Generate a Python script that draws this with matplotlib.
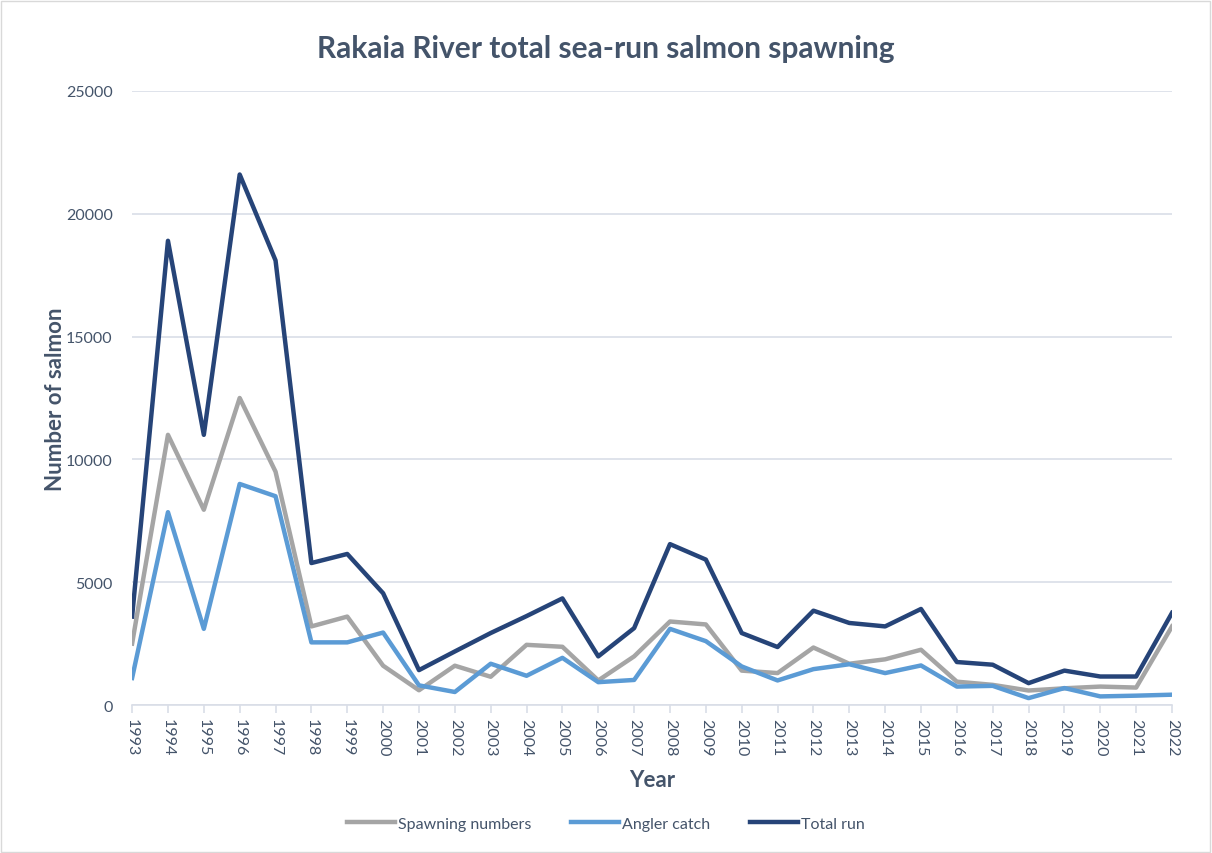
import matplotlib.pyplot as plt
import numpy as np

plt.rcParams['font.family'] = ['Lato', 'DejaVu Sans']

# years
years = list(range(1993, 2023))

# spawning numbers
spawning = [2500, 11000, 7950, 12500, 9500, 3200, 3600, 1600, 600, 1600,
            1150, 2450, 2370, 1000, 1980, 3400, 3280, 1400, 1300, 2340,
            1680, 1860, 2250, 950, 820, 590, 680, 750, 710, 3200]
# angler catch
angler = [1100, 7850, 3100, 9000, 8500, 2550, 2550, 2950, 800, 530,
          1680, 1190, 1920, 930, 1020, 3100, 2600, 1570, 1000, 1460,
          1660, 1300, 1610, 750, 780, 280, 690, 350, 380, 420]
# total run
total = [3600, 18900, 11000, 21600, 18100, 5780, 6150, 4550, 1420, 2180,
         2930, 3620, 4340, 1980, 3130, 6550, 5920, 2930, 2360, 3840,
         3340, 3200, 3910, 1750, 1640, 890, 1400, 1160, 1160, 3750]

text_col = '#44546A'
grid_col = '#D9DEE7'

fig = plt.figure(figsize=(12.12, 8.54), dpi=100)
ax = fig.add_axes([0.109, 0.1733, 0.858, 0.719])

ax.plot(years, spawning, color='#A5A5A5', lw=3.2, label='Spawning numbers')
ax.plot(years, angler, color='#5B9BD5', lw=3.2, label='Angler catch')
ax.plot(years, total, color='#264478', lw=3.2, label='Total run')

ax.set_xlim(1993, 2022)
ax.set_ylim(0, 25000)
ax.set_yticks(np.arange(0, 25001, 5000))
ax.set_xticks(years)
ax.set_xticklabels([str(y) for y in years], rotation=-90, fontsize=11.5, color=text_col)
ax.tick_params(axis='y', length=0, labelsize=11.5, labelcolor=text_col, pad=14)
ax.tick_params(axis='x', length=6, color=grid_col, width=1.2, pad=3)

ax.grid(axis='y', color=grid_col, lw=1.2)
ax.set_axisbelow(True)
for s in ['top', 'right', 'left']:
    ax.spines[s].set_visible(False)
ax.spines['bottom'].set_color(grid_col)
ax.spines['bottom'].set_linewidth(1.2)

ax.set_xlabel('Year', fontsize=16, fontweight='bold', color=text_col, labelpad=10)
ax.set_ylabel('Number of salmon', fontsize=16, fontweight='bold', color=text_col, labelpad=0)
fig.text(0.5, 0.943, 'Rakaia River total sea-run salmon spawning', ha='center', va='center',
         fontsize=21.5, fontweight='bold', color=text_col)

fig.legend(loc='center', bbox_to_anchor=(0.5, 0.034), ncol=3, frameon=False,
           fontsize=11.5, labelcolor=text_col, handlelength=3.0, handletextpad=0.2,
           columnspacing=2.5)

fig.patches.append(plt.Rectangle((0.001, 0.001), 0.997, 0.997, transform=fig.transFigure,
                                 fill=False, edgecolor='#D9D9D9', lw=1))

fig.savefig('out.png', dpi=100)
